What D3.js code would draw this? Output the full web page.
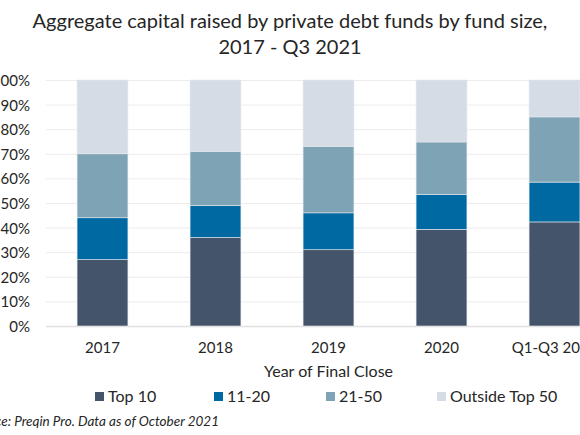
<!DOCTYPE html>
<html lang="en">
<head>
<meta charset="utf-8">
<style>
body {
  margin: 0;
  background: #fff;
  font-family: 'Lato', sans-serif;
}
svg text { fill: #262626; }
.grid line { stroke: #ececec; stroke-width: 1; }
.bar { stroke: #e4e8ee; stroke-width: 0.6; }
</style>
<title>Private debt funds by fund size</title>
<script src="https://cdn.jsdelivr.net/npm/d3@7"></script>
</head>
<body>
<div id="chart"></div>
<script>

var years = ["2017", "2018", "2019", "2020", "Q1-Q3 2021"];
var seriesNames = ["Top 10", "11-20", "21-50", "Outside Top 50"];
var top10 = [27, 36, 31, 39.3, 42.3];
var s11to20 = [17, 13, 15, 14.2, 16.2];
var s21to50 = [26, 22, 27, 21.3, 26.5];
var outside50 = [30, 29, 27, 25.2, 15];
var colours = ["#44546a", "#0069a2", "#7ea3b4", "#d6dce5"];
var yTicks = [0, 10, 20, 30, 40, 50, 60, 70, 80, 90, 100];

var w = 580,
    h = 435;

var svg = d3.select("#chart")
            .append("svg")
            .attr("width", w)
            .attr("height", h);

// build rows for the stack
var rows = years.map(function(y, i) {
  return {year: y, "Top 10": top10[i], "11-20": s11to20[i],
          "21-50": s21to50[i], "Outside Top 50": outside50[i]};
});

var x = d3.scaleBand()
          .domain(years)
          .range([46, 611])
          .paddingInner(0.55)
          .paddingOuter(0.275);

var y = d3.scaleLinear()
          .domain([0, 100])
          .range([326, 80]);

// title
svg.append("text")
   .attr("x", 290).attr("y", 28)
   .attr("text-anchor", "middle")
   .style("font-size", "20px")
   .text("Aggregate capital raised by private debt funds by fund size,");
svg.append("text")
   .attr("x", 290).attr("y", 54)
   .attr("text-anchor", "middle")
   .style("font-size", "20px")
   .text("2017 - Q3 2021");

// gridlines
svg.append("g")
   .attr("class", "grid")
   .selectAll("line")
   .data(yTicks)
   .enter()
   .append("line")
   .attr("x1", 46).attr("x2", w)
   .attr("y1", function(d){ return y(d) + 0.5; })
   .attr("y2", function(d){ return y(d) + 0.5; })
   .style("stroke", function(d){ return d === 0 ? "#e0e0e0" : null; })
   .style("stroke-width", function(d){ return d === 0 ? 1.5 : null; });

// y labels
var yAxis = svg.append("g")
   .attr("transform", "translate(30,0)")
   .call(d3.axisLeft(y).tickValues(yTicks).tickSize(0).tickPadding(0)
           .tickFormat(function(d){ return d + "%"; }));
yAxis.select(".domain").remove();
yAxis.selectAll("text").style("font-size", "15px").style("font-family", "Lato").attr("dy", "0.36em");

// stacked bars
var stack = d3.stack().keys(seriesNames);
var layers = stack(rows);

svg.append("g")
   .selectAll("g")
   .data(layers)
   .enter()
   .append("g")
   .attr("fill", function(d, i){ return colours[i]; })
   .selectAll("rect")
   .data(function(d){ return d; })
   .enter()
   .append("rect")
   .attr("class", "bar")
   .attr("x", function(d){ return x(d.data.year); })
   .attr("width", x.bandwidth())
   .attr("y", function(d){ return y(d[1]); })
   .attr("height", function(d){ return y(d[0]) - y(d[1]); });

// x labels
var xAxis = svg.append("g")
   .attr("transform", "translate(0,326)")
   .call(d3.axisBottom(x).tickSize(0).tickPadding(16));
xAxis.select(".domain").remove();
xAxis.selectAll("text").style("font-size", "15px").style("font-family", "Lato");

svg.append("text")
   .attr("x", x("2019") + x.bandwidth() / 2).attr("y", 377)
   .attr("text-anchor", "middle")
   .style("font-size", "16px")
   .text("Year of Final Close");

// legend
var legendX = [95, 214, 326, 437];
var legend = svg.selectAll(".legend")
   .data(seriesNames)
   .enter()
   .append("g")
   .attr("class", "legend")
   .attr("transform", function(d, i){ return "translate(" + legendX[i] + ",392)"; });
legend.append("rect")
   .attr("width", 9).attr("height", 9)
   .attr("fill", function(d, i){ return colours[i]; });
legend.append("text")
   .attr("x", 13).attr("y", 10)
   .style("font-size", "16px")
   .text(function(d){ return d; });

// source
svg.append("text")
   .attr("x", 219).attr("y", 426)
   .attr("text-anchor", "end")
   .style("font-size", "13.5px")
   .style("font-style", "italic")
   .text("Source: Preqin Pro. Data as of October 2021");

</script>
</body>
</html>
